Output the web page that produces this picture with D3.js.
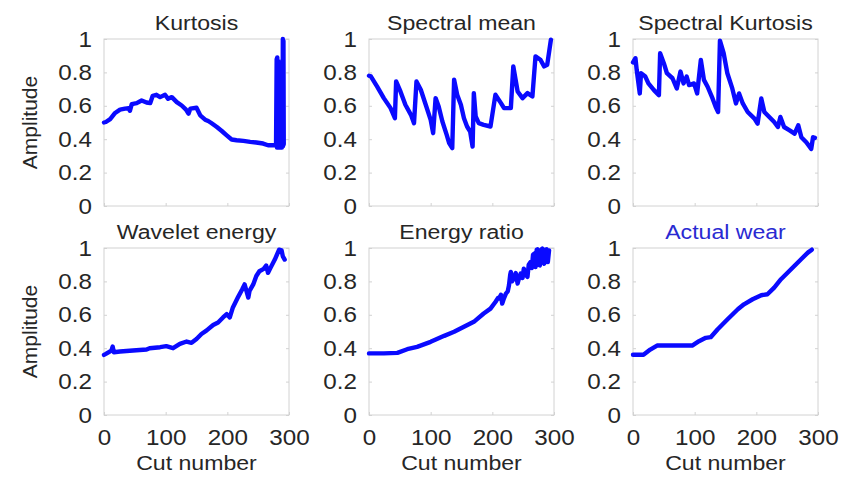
<!DOCTYPE html>
<html>
<head>
<meta charset="utf-8">
<script src="https://cdn.jsdelivr.net/npm/d3@7"></script>
<style>
  body { margin: 0; background: #fff; }
  text { font-family: 'Liberation Sans', Arial, sans-serif; }
</style>
</head>
<body>
<div id="chart"></div>
<script>
// values (cut number, normalised amplitude)
const kurtosisX = [0, 3, 10, 18, 26, 34, 40, 42, 45, 53, 61, 69, 75, 79, 85, 91, 99, 104, 110, 118, 126, 133, 137, 140, 150, 156, 164, 169, 174, 183, 191, 199, 207, 215, 226, 237, 247, 258, 266, 279, 280, 280.5, 281, 281.5, 282, 282.5, 283, 283.5, 284, 284.5, 285, 285.5, 286, 286.5, 287, 287.5, 288, 288.5, 289, 289.5, 290, 290.5, 291, 291.5]
const kurtosisY = [0.5, 0.503, 0.52, 0.557, 0.577, 0.583, 0.585, 0.57, 0.61, 0.616, 0.632, 0.62, 0.616, 0.66, 0.666, 0.652, 0.666, 0.642, 0.652, 0.622, 0.602, 0.577, 0.553, 0.583, 0.588, 0.543, 0.517, 0.509, 0.497, 0.473, 0.449, 0.423, 0.398, 0.394, 0.39, 0.384, 0.38, 0.374, 0.364, 0.364, 0.88, 0.35, 0.89, 0.36, 0.87, 0.35, 0.86, 0.36, 0.85, 0.35, 0.84, 0.36, 0.85, 0.35, 0.86, 0.36, 0.85, 0.35, 0.87, 0.36, 1.0, 0.36, 0.99, 0.37]

const spectralMeanX = [0, 3, 13, 24, 35, 42, 44, 51, 59, 68, 73, 77, 84, 92, 100, 104, 108, 113, 119, 126, 130, 135, 138, 143, 149, 154, 159, 164, 168, 170, 173, 178, 186, 197, 205, 214, 219, 230, 234, 241, 249, 257, 265, 270, 278, 284, 289, 295]
const spectralMeanY = [0.78, 0.776, 0.716, 0.646, 0.586, 0.526, 0.746, 0.686, 0.606, 0.546, 0.496, 0.746, 0.696, 0.606, 0.516, 0.436, 0.646, 0.596, 0.506, 0.426, 0.376, 0.346, 0.756, 0.666, 0.606, 0.526, 0.476, 0.446, 0.356, 0.676, 0.536, 0.496, 0.486, 0.476, 0.666, 0.616, 0.586, 0.586, 0.836, 0.686, 0.646, 0.676, 0.656, 0.896, 0.876, 0.836, 0.846, 0.996]

const spectralKurtX = [0, 4, 6, 11, 13, 20, 25, 34, 42, 44, 50, 55, 64, 71, 77, 82, 87, 91, 99, 104, 110, 115, 121, 129, 134, 138, 141, 147, 153, 161, 167, 172, 178, 186, 197, 202, 208, 213, 221, 229, 235, 239, 245, 254, 262, 268, 273, 281, 289, 292, 295]
const spectralKurtY = [0.86, 0.885, 0.815, 0.674, 0.795, 0.775, 0.734, 0.694, 0.664, 0.915, 0.855, 0.795, 0.765, 0.704, 0.805, 0.734, 0.775, 0.724, 0.734, 0.674, 0.875, 0.755, 0.714, 0.644, 0.594, 0.563, 0.99, 0.915, 0.795, 0.704, 0.614, 0.674, 0.614, 0.563, 0.523, 0.493, 0.644, 0.563, 0.533, 0.503, 0.473, 0.533, 0.473, 0.453, 0.433, 0.483, 0.412, 0.382, 0.342, 0.412, 0.408]

const waveletX = [0, 3, 12, 14, 16, 26, 47, 69, 74, 91, 101, 112, 123, 134, 142, 150, 158, 166, 177, 185, 193, 199, 204, 209, 217, 224, 228, 231, 234, 236, 242, 247, 252, 259, 263, 266, 270, 277, 284, 288, 290, 293]
const waveletY = [0.36, 0.366, 0.386, 0.41, 0.376, 0.38, 0.386, 0.392, 0.4, 0.406, 0.412, 0.4, 0.426, 0.44, 0.432, 0.455, 0.485, 0.505, 0.539, 0.554, 0.584, 0.604, 0.584, 0.644, 0.703, 0.752, 0.782, 0.743, 0.703, 0.743, 0.782, 0.832, 0.861, 0.875, 0.895, 0.851, 0.881, 0.931, 0.99, 0.986, 0.95, 0.931]

const energyRatioX = [0, 24, 46, 62, 78, 100, 122, 138, 154, 170, 186, 197, 205, 209, 211, 214, 216, 219, 222, 225, 227, 229, 230, 232, 235, 238, 241, 244, 246, 249, 251, 254, 257, 259, 262, 264, 266, 268, 270, 272, 273, 275, 277, 279, 281, 283, 284, 286, 288, 290, 292]
const energyRatioY = [0.369, 0.369, 0.372, 0.394, 0.408, 0.438, 0.474, 0.498, 0.528, 0.558, 0.608, 0.637, 0.677, 0.70, 0.697, 0.72, 0.667, 0.70, 0.727, 0.74, 0.777, 0.84, 0.857, 0.80, 0.817, 0.85, 0.787, 0.83, 0.847, 0.82, 0.876, 0.84, 0.827, 0.90, 0.916, 0.88, 0.96, 0.966, 0.886, 0.99, 0.992, 0.90, 0.896, 0.99, 0.996, 0.91, 0.906, 0.99, 0.992, 0.916, 0.986]

const wearX = [0, 17, 28, 39, 96, 107, 118, 126, 137, 153, 170, 180, 194, 208, 218, 229, 240, 251, 262, 273, 284, 290]
const wearY = [0.361, 0.361, 0.392, 0.416, 0.416, 0.442, 0.462, 0.466, 0.512, 0.572, 0.633, 0.663, 0.693, 0.717, 0.723, 0.763, 0.813, 0.853, 0.894, 0.934, 0.974, 0.99]

const titles = ['Kurtosis', 'Spectral mean', 'Spectral Kurtosis', 'Wavelet energy', 'Energy ratio', 'Actual wear']
const yTicks = [0, 0.2, 0.4, 0.6, 0.8, 1]
const xTicks = [0, 100, 200, 300]

const series = [
  [kurtosisX, kurtosisY],
  [spectralMeanX, spectralMeanY],
  [spectralKurtX, spectralKurtY],
  [waveletX, waveletY],
  [energyRatioX, energyRatioY],
  [wearX, wearY]
]

const width = 858
const height = 478
const colLeft = [104, 369, 633]
const rowTop = [39, 248]
const plotW = 185
const plotH = 167
const textColor = '#262626'
const stretch = 'scale(1.1,1)'

const svg = d3
  .select('#chart')
  .append('svg')
  .attr('width', width)
  .attr('height', height)

const xScale = d3.scaleLinear().domain([0, 300]).range([0, plotW])
const yScale = d3.scaleLinear().domain([0, 1]).range([plotH, 0])

const line = d3
  .line()
  .x(d => xScale(d[0]))
  .y(d => yScale(d[1]))

series.forEach((s, i) => {
  const col = i % 3
  const row = Math.floor(i / 3)
  const g = svg
    .append('g')
    .attr('transform', 'translate(' + colLeft[col] + ',' + rowTop[row] + ')')

  // box
  g.append('rect')
    .attr('width', plotW)
    .attr('height', plotH)
    .attr('fill', 'none')
    .attr('stroke', '#d2d2d2')
    .attr('stroke-width', 1)

  // faint inner ticks on all sides
  g.append('g').attr('class', 'tick-in')
    .call(d3.axisLeft(yScale).tickValues(yTicks).tickSize(-3).tickFormat(''))
  g.append('g').attr('class', 'tick-in')
    .attr('transform', 'translate(' + plotW + ',0)')
    .call(d3.axisRight(yScale).tickValues(yTicks).tickSize(-3).tickFormat(''))
  g.append('g').attr('class', 'tick-in')
    .attr('transform', 'translate(0,' + plotH + ')')
    .call(d3.axisBottom(xScale).tickValues(xTicks).tickSize(-3).tickFormat(''))
  g.selectAll('.tick-in .domain').remove()
  g.selectAll('.tick-in line').attr('stroke', '#d2d2d2')

  // y tick labels
  const yAxis = g.append('g')
    .call(d3.axisLeft(yScale).tickValues(yTicks).tickSize(0).tickPadding(11).tickFormat(d3.format('~g')))
  yAxis.select('.domain').remove()
  yAxis.selectAll('text')
    .attr('font-size', 22)
    .attr('font-family', "'Liberation Sans', Arial, sans-serif")
    .attr('fill', textColor)
    .attr('transform', stretch)

  // x tick labels only on the bottom row
  if (row === 1) {
    const xAxis = g.append('g')
      .attr('transform', 'translate(0,' + plotH + ')')
      .call(d3.axisBottom(xScale).tickValues(xTicks).tickSize(0).tickPadding(14))
    xAxis.select('.domain').remove()
    xAxis.selectAll('text')
      .attr('font-size', 22)
      .attr('font-family', "'Liberation Sans', Arial, sans-serif")
      .attr('fill', textColor)
      .attr('transform', stretch)

    g.append('text')
      .attr('transform', 'translate(' + plotW / 2 + ',' + (plotH + 55) + ') ' + stretch)
      .attr('text-anchor', 'middle')
      .attr('font-size', 21)
      .attr('fill', textColor)
      .text('Cut number')
  }

  // title
  g.append('text')
    .attr('transform', 'translate(' + plotW / 2 + ',' + -9 + ') ' + stretch)
    .attr('text-anchor', 'middle')
    .attr('font-size', 21)
    .attr('fill', i === 5 ? '#2a2ad2' : textColor)
    .text(titles[i])

  if (col === 0) {
    g.append('text')
      .attr('transform', 'translate(' + (37 - colLeft[0]) + ',' + plotH / 2 + ') rotate(-90)')
      .attr('text-anchor', 'middle')
      .attr('font-size', 21)
      .attr('fill', textColor)
      .text('Amplitude')
  }

  const points = s[0].map((x, j) => [x, s[1][j]])
  g.append('path')
    .datum(points)
    .attr('d', line)
    .attr('fill', 'none')
    .attr('stroke', '#0a0aff')
    .attr('stroke-width', 4.4)
    .attr('stroke-linejoin', 'round')
    .attr('stroke-linecap', 'round')
})
</script>
</body>
</html>
